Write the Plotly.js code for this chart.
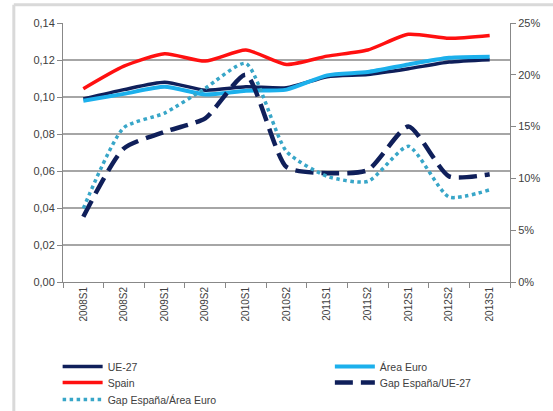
<!DOCTYPE html>
<html><head><meta charset="utf-8">
<script src="https://cdn.plot.ly/plotly-3.0.1.min.js"></script>
<style>html,body{margin:0;padding:0;background:#fff}#c{width:553px;height:411px}</style>
</head><body><div id="c"></div>
<script>
var categories = ["2008S1","2008S2","2009S1","2009S2","2010S1","2010S2","2011S1","2011S2","2012S1","2012S2","2013S1"];
var ue27 = [0.099,0.104,0.108,0.1037,0.1055,0.105,0.111,0.1122,0.1153,0.1189,0.1202];
var areaEuro = [0.098,0.1017,0.1055,0.1014,0.1034,0.104,0.1117,0.1135,0.1176,0.1212,0.1218];
var spain = [0.1045,0.1167,0.1234,0.1194,0.1254,0.1176,0.1221,0.1254,0.1339,0.1317,0.1333];
var gapUE27 = [0.063,0.129,0.145,0.158,0.200,0.111,0.105,0.108,0.150,0.102,0.104];
var gapAreaEuro = [0.071,0.149,0.163,0.187,0.211,0.126,0.102,0.097,0.131,0.082,0.089];

var sm = 0.6;
var data = [
 {x:categories,y:ue27,name:"UE-27",legend:"legend",type:"scatter",mode:"lines",line:{color:"#0f1f5a",width:3.5,shape:"spline",smoothing:sm}},
 {x:categories,y:areaEuro,name:"Área Euro",legend:"legend2",type:"scatter",mode:"lines",line:{color:"#1cb0ec",width:4,shape:"spline",smoothing:sm}},
 {x:categories,y:spain,name:"Spain",legend:"legend3",type:"scatter",mode:"lines",line:{color:"#ff1010",width:3.5,shape:"spline",smoothing:sm}},
 {x:categories,y:gapUE27,name:"Gap España/UE-27",legend:"legend4",type:"scatter",mode:"lines",yaxis:"y2",line:{color:"#0f1f5a",width:4.5,dash:"18px,8px",shape:"spline",smoothing:sm}},
 {x:categories,y:gapAreaEuro,name:"Gap España/Área Euro",legend:"legend5",type:"scatter",mode:"lines",yaxis:"y2",line:{color:"#38a6c8",width:3.5,dash:"dot",shape:"spline",smoothing:sm}}
];
var fnt = {family:"Liberation Sans, Arial, sans-serif",size:11,color:"#404040"};
var lfnt = {family:"Liberation Sans, Arial, sans-serif",size:10.5,color:"#404040"};
function leg(x,y){return {orientation:"v",x:x,xanchor:"left",y:y,yanchor:"top",font:lfnt,itemwidth:40,bgcolor:"rgba(0,0,0,0)"};}
var col1 = -0.012, col2 = 0.597;
var row1 = -0.270, row2 = -0.332, row3 = -0.398;
var layout = {
 width:553,height:411,
 margin:{l:63,r:43,t:23,b:129,autoexpand:false},
 separators:",.",
 paper_bgcolor:"#fff",plot_bgcolor:"#fff",
 font:fnt,
 showlegend:true,
 legend:leg(col1,row1),
 legend2:leg(col2,row1),
 legend3:leg(col1,row2),
 legend4:leg(col2,row2),
 legend5:leg(col1,row3),
 xaxis:{type:"category",tickangle:-90,ticks:"outside",tickson:"boundaries",ticklen:5,tickcolor:"#888",showline:true,linecolor:"#888",linewidth:1,showgrid:false,tickfont:{family:"Liberation Sans, Arial, sans-serif",size:10,color:"#404040"},range:[-0.5,10.5]},
 yaxis:{range:[0,0.14],dtick:0.02,tickformat:".2f",showgrid:true,gridcolor:"#a6a6a6",gridwidth:1.5,showline:true,linecolor:"#888",ticks:"outside",ticklen:5,tickcolor:"#888",zeroline:false,tickfont:fnt},
 yaxis2:{overlaying:"y",side:"right",range:[0,0.25],dtick:0.05,tickformat:".0%",showgrid:false,showline:true,linecolor:"#888",ticks:"outside",ticklen:5,tickcolor:"#888",zeroline:false,tickfont:fnt},
 shapes:[
  {type:"line",xref:"paper",yref:"paper",x0:-0.11,x1:1.2,y0:1.07,y1:1.07,line:{color:"#d9d9d9",width:3}},
  {type:"line",xref:"paper",yref:"paper",x0:-0.11,x1:-0.11,y0:1.07,y1:-0.6,line:{color:"#d9d9d9",width:3}}
 ]
};
Plotly.newPlot("c",data,layout,{staticPlot:true});
</script></body></html>
